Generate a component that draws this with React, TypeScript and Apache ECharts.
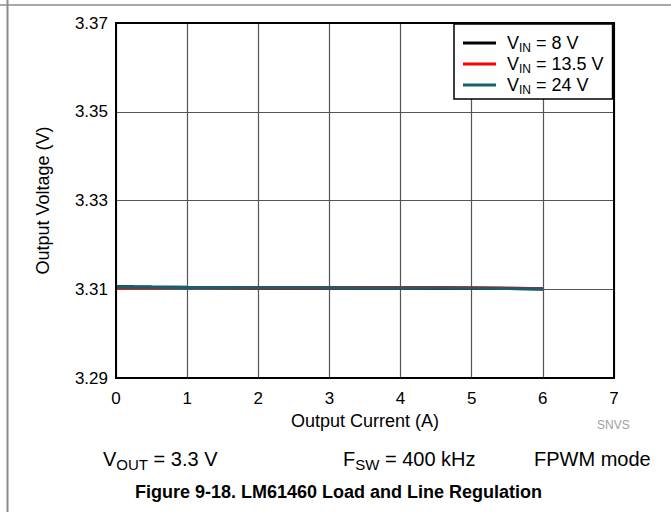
import React, { useEffect, useRef } from "react";
import * as echarts from "echarts";

const currentA = [0, 0.1, 0.25, 0.5, 1, 1.5, 2, 2.5, 3, 3.5, 4, 4.5, 5, 5.5, 6];
const vin8 = [3.31062, 3.31058, 3.31054, 3.31049, 3.31043, 3.31039, 3.31036, 3.31034, 3.31033, 3.31032, 3.31031, 3.31029, 3.31025, 3.31017, 3.31007];
const vin135 = [3.31042, 3.31042, 3.31041, 3.3104, 3.31038, 3.31034, 3.31028, 3.31029, 3.31036, 3.3104, 3.3104, 3.3104, 3.31036, 3.31026, 3.31009];
const vin24 = [3.31058, 3.31055, 3.31052, 3.31048, 3.31042, 3.31038, 3.31035, 3.31033, 3.31031, 3.3103, 3.3103, 3.31028, 3.31024, 3.31016, 3.31006];
const seriesNames = ["8 V", "13.5 V", "24 V"];
const seriesColors = ["#000000", "#ff0000", "#1b5e6b"];
const yTicks = [3.29, 3.31, 3.33, 3.35, 3.37];
const xTicks = [0, 1, 2, 3, 4, 5, 6, 7];

const FONT = "'Liberation Sans', Arial, sans-serif";

export default function App() {
  const ref = useRef<HTMLDivElement>(null);
  useEffect(() => {
    if (!ref.current) return;
    const chart = echarts.init(ref.current, undefined, { renderer: "svg" });
    const seriesData = [vin8, vin135, vin24];
    chart.setOption({
      animation: false,
      backgroundColor: "#ffffff",
      textStyle: { fontFamily: FONT },
      grid: {
        left: 116,
        right: 57,
        top: 23,
        bottom: 134,
        show: true,
        borderColor: "#000",
        borderWidth: 2,
        z: 10,
      },
      xAxis: {
        type: "value",
        min: xTicks[0],
        max: xTicks[xTicks.length - 1],
        interval: 1,
        name: "Output Current (A)",
        nameLocation: "middle",
        nameGap: 25,
        nameTextStyle: { fontSize: 18, color: "#000", fontFamily: FONT },
        axisLine: { show: false },
        axisTick: { show: false },
        axisLabel: { fontSize: 17, color: "#000", margin: 12, fontFamily: FONT },
        splitLine: { show: true, lineStyle: { color: "#555", width: 1.2 } },
      },
      yAxis: {
        type: "value",
        min: yTicks[0],
        max: yTicks[yTicks.length - 1],
        interval: 0.02,
        name: "Output Voltage (V)",
        nameLocation: "middle",
        nameGap: 64,
        nameTextStyle: { fontSize: 18, color: "#000", fontFamily: FONT },
        axisLine: { show: false },
        axisTick: { show: false },
        axisLabel: {
          fontSize: 17,
          color: "#000",
          margin: 8,
          fontFamily: FONT,
          formatter: (v: number) => v.toFixed(2),
        },
        splitLine: { show: true, lineStyle: { color: "#555", width: 1.2 } },
      },
      legend: {
        orient: "vertical",
        left: 454,
        top: 24,
        padding: [10, 9, 3, 9],
        backgroundColor: "#fff",
        borderColor: "#000",
        borderWidth: 1.5,
        borderRadius: 0,
        itemWidth: 33,
        itemHeight: 3,
        itemGap: 1,
        icon: "rect",
        data: seriesNames,
        formatter: (name: string) => `{v|V}{s|IN}{m| = ${name}}`,
        textStyle: {
          color: "#000",
          fontFamily: FONT,
          rich: {
            v: { fontSize: 18, fontFamily: FONT, color: "#000", padding: [0, 0, 0, 6] },
            m: { fontSize: 18, fontFamily: FONT, color: "#000" },
            s: { fontSize: 12, fontFamily: FONT, color: "#000", padding: [10, 0, 0, 0] },
          },
        },
      },
      series: seriesNames.map((n, i) => ({
        name: n,
        type: "line",
        symbol: "none",
        data: currentA.map((x, j) => [x, seriesData[i][j]]),
        lineStyle: { color: seriesColors[i], width: 3 },
        itemStyle: { color: seriesColors[i] },
        z: 3 + i,
      })),
      graphic: [
        { type: "line", shape: { x1: 7.5, y1: 0, x2: 7.5, y2: 512 }, style: { stroke: "#8c8c8c", lineWidth: 2 } },
        { type: "line", shape: { x1: 0, y1: 5, x2: 671, y2: 5 }, style: { stroke: "#8c8c8c", lineWidth: 1.5 } },
        {
          type: "text",
          left: 597,
          top: 419,
          style: { text: "SNVS", fontSize: 12, fill: "#a0a0a0", fontFamily: FONT },
        },
        {
          type: "text",
          left: 103,
          top: 449,
          style: {
            text: "{m|V}{s|OUT}{m| = 3.3 V}",
            fontFamily: FONT,
            rich: {
              m: { fontSize: 20, fontFamily: FONT, fill: "#000" },
              s: { fontSize: 15, fontFamily: FONT, fill: "#000", padding: [10, 0, 0, 0] },
            },
          },
        },
        {
          type: "text",
          left: 343,
          top: 449,
          style: {
            text: "{m|F}{s|SW}{m| = 400 kHz}",
            fontFamily: FONT,
            rich: {
              m: { fontSize: 20, fontFamily: FONT, fill: "#000" },
              s: { fontSize: 15, fontFamily: FONT, fill: "#000", padding: [10, 0, 0, 0] },
            },
          },
        },
        {
          type: "text",
          left: 534,
          top: 449,
          style: { text: "FPWM mode", fontSize: 20, fontFamily: FONT, fill: "#000" },
        },
        {
          type: "text",
          left: 135,
          top: 483,
          style: {
            text: "Figure 9-18. LM61460 Load and Line Regulation",
            fontSize: 18,
            fontWeight: "bold",
            fontFamily: FONT,
            fill: "#000",
          },
        },
      ],
    });
    return () => chart.dispose();
  }, []);
  return <div ref={ref} style={{ width: 671, height: 512, position: "absolute", left: 0, top: 0 }} />;
}
